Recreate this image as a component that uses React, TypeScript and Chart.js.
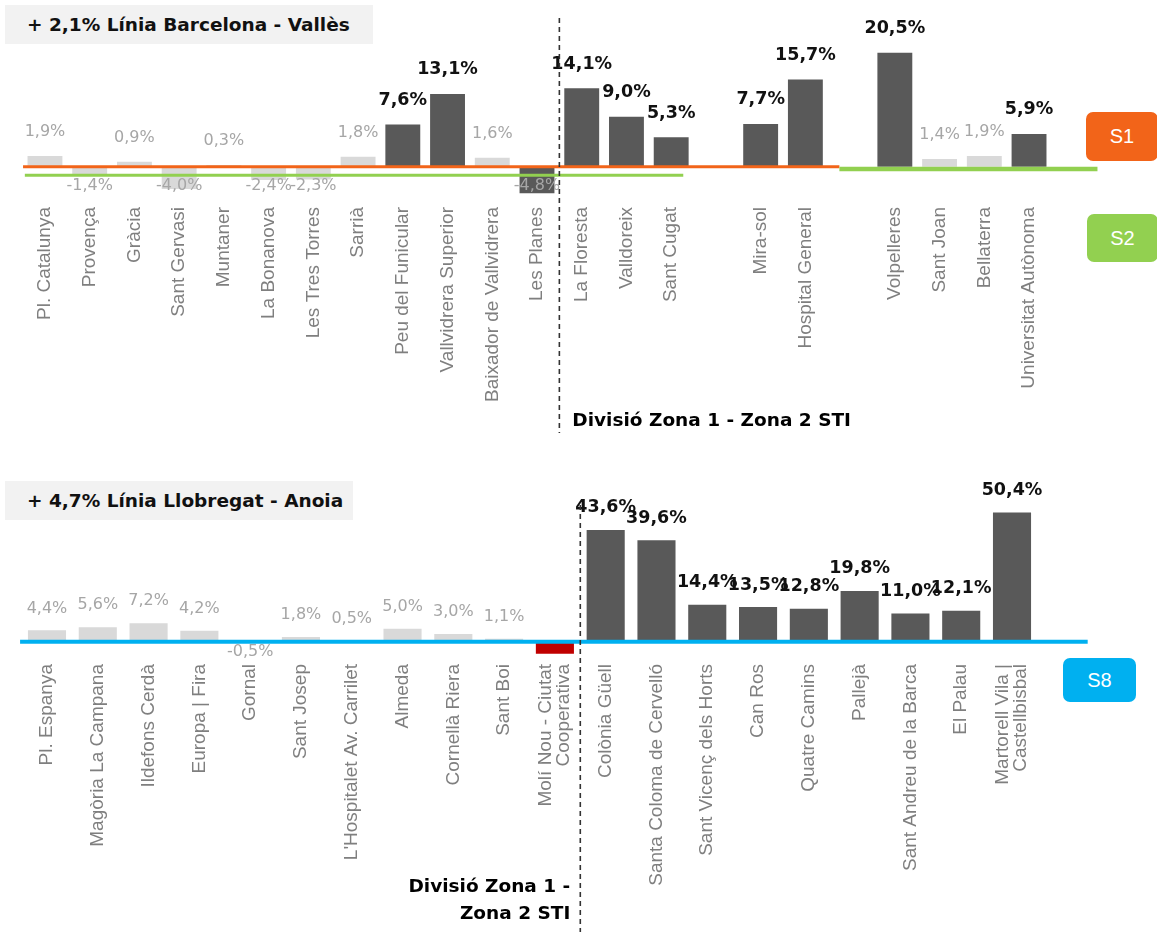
import React, { useEffect, useRef } from "react";
import { Chart, registerables } from "chart.js";

Chart.register(...registerables);

// ---------------- Línia Barcelona - Vallès ----------------
const bvTitle = "+ 2,1% Línia Barcelona - Vallès";
const bvStations: (string | string[])[] = [
  "Pl. Catalunya", "Provença", "Gràcia", "Sant Gervasi", "Muntaner", "La Bonanova",
  "Les Tres Torres", "Sarrià", "Peu del Funicular", "Vallvidrera Superior",
  "Baixador de Vallvidrera", "Les Planes", "La Floresta", "Valldoreix", "Sant Cugat", "",
  "Mira-sol", "Hospital General", "", "Volpelleres", "Sant Joan", "Bellaterra",
  "Universitat Autònoma",
];
const bvValues: (number | null)[] = [
  1.9, -1.4, 0.9, -4.0, 0.3, -2.4, -2.3, 1.8, 7.6, 13.1, 1.6, -4.8, 14.1, 9.0, 5.3, null,
  7.7, 15.7, null, 20.5, 1.4, 1.9, 5.9,
];
const bvHighlighted = [
  0, 0, 0, 0, 0, 0, 0, 0, 1, 1, 0, 1, 1, 1, 1, 0, 1, 1, 0, 1, 0, 0, 1,
];
// service lines: [from station index, to station index, level]
const bvS1Line = [-0.49, 17.76, 0];
const bvS2LineA = [-0.45, 14.27, -1.55];
const bvS2LineB = [17.76, 23.53, -0.4];
const bvZoneBoundary = 11.5;

// ---------------- Línia Llobregat - Anoia ----------------
const llTitle = "+ 4,7% Línia Llobregat - Anoia";
const llStations: (string | string[])[] = [
  "Pl. Espanya", "Magòria La Campana", "Ildefons Cerdà", "Europa | Fira", "Gornal",
  "Sant Josep", "L'Hospitalet Av. Carrilet", "Almeda", "Cornellà Riera", "Sant Boi",
  ["Molí Nou - Ciutat", "Cooperativa"], "Colònia Güell", "Santa Coloma de Cervelló",
  "Sant Vicenç dels Horts", "Can Ros", "Quatre Camins", "Pallejà",
  "Sant Andreu de la Barca", "El Palau", ["Martorell Vila |", "Castellbisbal"],
];
const llValues: (number | null)[] = [
  4.4, 5.6, 7.2, 4.2, -0.5, 1.8, 0.5, 5.0, 3.0, 1.1, -4.7, 43.6, 39.6, 14.4, 13.5, 12.8,
  19.8, 11.0, 12.1, 50.4,
];
const llHighlighted = [0, 0, 0, 0, 0, 0, 0, 0, 0, 0, 2, 1, 1, 1, 1, 1, 1, 1, 1, 1];
const llS8Line = [-0.53, 20.49, 0];
const llZoneBoundary = 10.5;

const DARK = "#595959";
const LIGHT = "#d9d9d9";
const RED = "#c00000";
const ORANGE = "#f26419";
const GREEN = "#92d050";
const CYAN = "#00b0f0";
const LABEL_FONT = "'DejaVu Sans', Verdana, sans-serif";
const AXIS_FONT = "'Liberation Sans', Arial, sans-serif";
const AXIS_SIZE = 19;
const AXIS_LH = 17.5;

const fmt = (v: number) => v.toFixed(1).replace(".", ",") + "%";

type LineSpec = { seg: number[]; color: string; width: number };

interface PanelCfg {
  stations: (string | string[])[];
  values: (number | null)[];
  highlighted: number[];
  lines: LineSpec[];
  boundary: number;
  yMin: number;
  yMax: number;
  padding: { left: number; right: number; top: number };
  axisHeight: number;
  barPct: number;
  posOffset: number;
  negOffset: number;
  dash: { top: number; bottom: number };
  dividerText: { lines: string[]; align: "left" | "right"; dx: number; y: number; lh: number };
}

function makeOverlay(cfg: PanelCfg) {
  return {
    id: "overlay",
    beforeDraw(chart: any) {
      // centre multi-line rotated tick labels on their tick
      const xs = chart.scales.x;
      if (!xs || !xs.getLabelItems) return;
      const items = xs.getLabelItems();
      items.forEach((it: any) => {
        if (Array.isArray(it.label) && it.label.length > 1 && it.options && it.options.translation) {
          it.options.translation[0] -= ((it.label.length - 1) * AXIS_LH) / 2;
        }
      });
    },
    afterDatasetsDraw(chart: any) {
      const ctx: CanvasRenderingContext2D = chart.ctx;
      const xs = chart.scales.x;
      const ys = chart.scales.y;
      // service lines
      cfg.lines.forEach((l) => {
        const y = ys.getPixelForValue(l.seg[2]);
        ctx.save();
        ctx.strokeStyle = l.color;
        ctx.lineWidth = l.width;
        ctx.beginPath();
        ctx.moveTo(xs.getPixelForValue(l.seg[0]), y);
        ctx.lineTo(xs.getPixelForValue(l.seg[1]), y);
        ctx.stroke();
        ctx.restore();
      });
      // value labels
      const meta = chart.getDatasetMeta(0);
      const zeroY = ys.getPixelForValue(0);
      meta.data.forEach((bar: any, i: number) => {
        const v = cfg.values[i];
        if (v == null || cfg.highlighted[i] === 2) return;
        const bold = cfg.highlighted[i] === 1 && v > 0;
        ctx.save();
        ctx.font = bold ? `bold 17.5px ${LABEL_FONT}` : `16px ${LABEL_FONT}`;
        ctx.fillStyle = bold ? "#111111" : "#a6a6a6";
        ctx.textAlign = "center";
        ctx.textBaseline = "middle";
        const y = v >= 0 ? bar.y - cfg.posOffset : zeroY + cfg.negOffset;
        ctx.fillText(fmt(v), bar.x, y);
        ctx.restore();
      });
    },
    afterDraw(chart: any) {
      const ctx: CanvasRenderingContext2D = chart.ctx;
      const xs = chart.scales.x;
      const x = xs.getPixelForValue(cfg.boundary);
      ctx.save();
      ctx.strokeStyle = "#333333";
      ctx.lineWidth = 1.6;
      ctx.setLineDash([5, 4]);
      ctx.beginPath();
      ctx.moveTo(x, cfg.dash.top);
      ctx.lineTo(x, cfg.dash.bottom);
      ctx.stroke();
      ctx.setLineDash([]);
      ctx.font = `bold 18.5px ${LABEL_FONT}`;
      ctx.fillStyle = "#000000";
      ctx.textAlign = cfg.dividerText.align;
      ctx.textBaseline = "middle";
      cfg.dividerText.lines.forEach((t, i) => {
        ctx.fillText(t, x + cfg.dividerText.dx, cfg.dividerText.y + i * cfg.dividerText.lh);
      });
      ctx.restore();
    },
  };
}

function buildChart(canvas: HTMLCanvasElement, cfg: PanelCfg) {
  const colors = cfg.highlighted.map((h) => (h === 2 ? RED : h === 1 ? DARK : LIGHT));
  return new Chart(canvas, {
    type: "bar",
    data: {
      labels: cfg.stations as any,
      datasets: [
        {
          data: cfg.values as any,
          backgroundColor: colors,
          borderWidth: 0,
          categoryPercentage: 1,
          barPercentage: cfg.barPct,
        },
      ],
    },
    options: {
      animation: false,
      responsive: false,
      maintainAspectRatio: false,
      layout: { padding: { left: cfg.padding.left, right: cfg.padding.right, top: cfg.padding.top, bottom: 0 } },
      plugins: { legend: { display: false }, tooltip: { enabled: false }, title: { display: false } },
      scales: {
        x: {
          offset: true,
          grid: { display: false, drawTicks: false },
          border: { display: false },
          ticks: {
            autoSkip: false,
            minRotation: 90,
            maxRotation: 90,
            padding: 7,
            color: "#7f7f7f",
            font: { family: AXIS_FONT, size: AXIS_SIZE, lineHeight: AXIS_LH / AXIS_SIZE },
          },
          afterFit: (scale: any) => {
            scale.height = cfg.axisHeight;
            scale.paddingLeft = 0;
            scale.paddingRight = 0;
          },
        },
        y: {
          display: false,
          min: cfg.yMin,
          max: cfg.yMax,
        },
      },
    },
    plugins: [makeOverlay(cfg)],
  } as any);
}

const bvCfg: PanelCfg = {
  stations: bvStations,
  values: bvValues,
  highlighted: bvHighlighted,
  lines: [
    { seg: bvS1Line, color: ORANGE, width: 3 },
    { seg: bvS2LineA, color: GREEN, width: 3 },
    { seg: bvS2LineB, color: GREEN, width: 4.5 },
  ],
  boundary: bvZoneBoundary,
  yMin: -6,
  yMax: 26.4,
  padding: { left: 22.6, right: 105.6, top: 20 },
  axisHeight: 250,
  barPct: 0.78,
  posOffset: 24,
  negOffset: 19,
  dash: { top: 18, bottom: 433 },
  dividerText: { lines: ["Divisió Zona 1 - Zona 2 STI"], align: "left", dx: 13, y: 421, lh: 0 },
};

const llCfg: PanelCfg = {
  stations: llStations,
  values: llValues,
  highlighted: llHighlighted,
  lines: [{ seg: llS8Line, color: CYAN, width: 4 }],
  boundary: llZoneBoundary,
  yMin: -6,
  yMax: 67,
  padding: { left: 21.6, right: 119.6, top: 10 },
  axisHeight: 277,
  barPct: 0.75,
  posOffset: 22,
  negOffset: 10,
  dash: { top: 45, bottom: 472 },
  dividerText: { lines: ["Divisió Zona 1 -", "Zona 2 STI"], align: "right", dx: -10, y: 427, lh: 27 },
};

const titleStyle = (top: number, width: number): React.CSSProperties => ({
  position: "absolute",
  left: 5,
  top,
  width,
  height: 39,
  background: "#f2f2f2",
  boxSizing: "border-box",
  paddingLeft: 22,
  lineHeight: "39px",
  fontFamily: LABEL_FONT,
  fontWeight: 700,
  fontSize: 18.5,
  color: "#111",
  whiteSpace: "nowrap",
});

const badgeStyle = (left: number, top: number, w: number, h: number, bg: string): React.CSSProperties => ({
  position: "absolute",
  left,
  top,
  width: w,
  height: h,
  background: bg,
  borderRadius: 7,
  color: "#fff",
  fontFamily: AXIS_FONT,
  fontSize: 20,
  display: "flex",
  alignItems: "center",
  justifyContent: "center",
});

export default function App() {
  const topRef = useRef<HTMLCanvasElement>(null);
  const botRef = useRef<HTMLCanvasElement>(null);

  useEffect(() => {
    const c1 = buildChart(topRef.current!, bvCfg);
    const c2 = buildChart(botRef.current!, llCfg);
    return () => {
      c1.destroy();
      c2.destroy();
    };
  }, []);

  return (
    <div style={{ position: "absolute", left: 0, top: 0, width: 1157, height: 934, background: "#fff", overflow: "hidden" }}>
      <canvas ref={topRef} width={1157} height={450} style={{ position: "absolute", left: 0, top: 0 }} />
      <canvas ref={botRef} width={1157} height={474} style={{ position: "absolute", left: 0, top: 460 }} />
      <div style={titleStyle(5, 368)}>{bvTitle}</div>
      <div style={titleStyle(481, 348)}>{llTitle}</div>
      <div style={badgeStyle(1086, 112, 72, 49, ORANGE)}>S1</div>
      <div style={badgeStyle(1087, 214, 71, 48, GREEN)}>S2</div>
      <div style={badgeStyle(1063, 658, 73, 44, CYAN)}>S8</div>
    </div>
  );
}
